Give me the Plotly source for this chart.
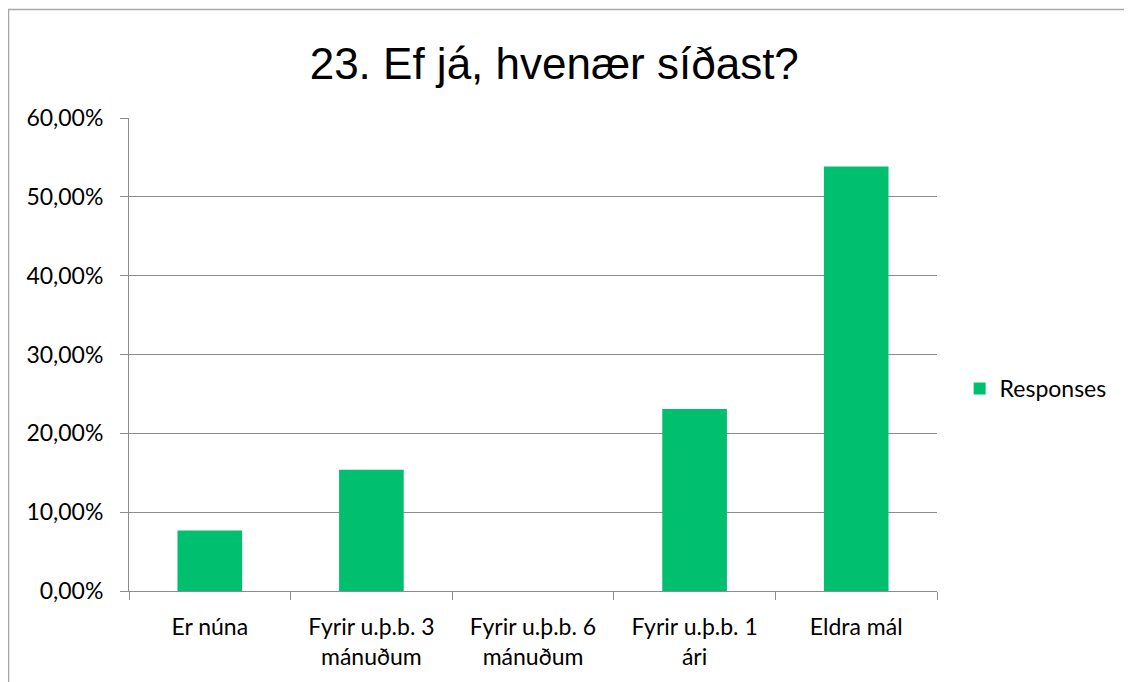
import plotly.graph_objects as go

categories = ["Er núna", "Fyrir u.þ.b. 3<br>mánuðum", "Fyrir u.þ.b. 6<br>mánuðum",
              "Fyrir u.þ.b. 1<br>ári", "Eldra mál"]
responses = [0.0769, 0.1538, 0.0, 0.2308, 0.5385]
series_name = "Responses"
title_text = "23. Ef já, hvenær síðast?"

GREEN = "#00BF6F"
GRID = "#8C8C8C"
TICKFONT = dict(family="Lato, Carlito, sans-serif", size=23, color="#000000")

fig = go.Figure()
fig.add_trace(go.Bar(
    x=categories, y=responses, name=series_name,
    marker=dict(color=GREEN, line=dict(width=0)),
    showlegend=True,
))

fig.update_layout(
    width=1124, height=674,
    paper_bgcolor="white", plot_bgcolor="white",
    margin=dict(l=121, r=195, t=110, b=91),
    separators=",.",
    bargap=0.6,
    title=dict(text=title_text, x=0.486, xanchor="center", y=0.918, yanchor="middle",
               font=dict(family="Liberation Sans, Arial, sans-serif", size=44, color="#000000")),
    xaxis=dict(
        type="category", showgrid=False, showline=True, linecolor=GRID, linewidth=1,
        ticks="outside", tickson="boundaries", ticklen=8, tickcolor=GRID,
        tickfont=TICKFONT, ticklabelstandoff=15,
    ),
    yaxis=dict(
        range=[0, 0.6], dtick=0.1, tickformat=".2%",
        showgrid=True, gridcolor=GRID, gridwidth=1,
        showline=True, linecolor=GRID, linewidth=1,
        ticks="outside", ticklen=8, tickcolor=GRID,
        tickfont=TICKFONT, zeroline=False, ticklabelstandoff=12,
    ),
    legend=dict(x=1.028, y=0.428, xanchor="left", yanchor="middle",
                font=TICKFONT, itemwidth=30, bgcolor="rgba(0,0,0,0)"),
    shapes=[dict(type="rect", xref="paper", yref="paper", x0=-0.1491, x1=1.3, y0=-0.3, y1=1.2294,
                 line=dict(color="#A6A6A6", width=1.5), fillcolor="rgba(0,0,0,0)", layer="below")],
)

fig.write_html("out.html")
